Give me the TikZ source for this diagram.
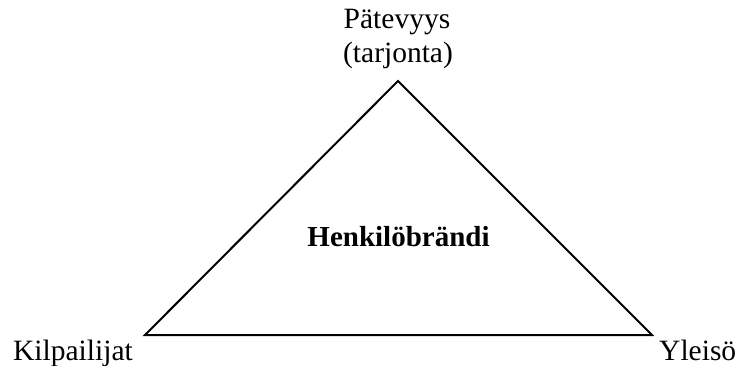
\documentclass[tikz,border=0pt]{standalone}
\usepackage{fontspec}
\setmainfont{Liberation Serif}
\begin{document}
\begin{tikzpicture}[x=1pt,y=-1pt,
  lbl/.style={inner sep=0pt,anchor=base,font=\fontsize{29.5}{32}\selectfont},
  side/.style={line width=2pt,line join=miter}]
\useasboundingbox (0,0) rectangle (739,366);
% corners of the triangle
\coordinate (top) at (398,81);
\coordinate (left) at (145,335);
\coordinate (right) at (652,335);
\draw[side] (top) -- (left) -- (right) -- cycle;
% labels
\node[lbl] (p1) at (397,29) {Pätevyys};
\node[lbl] (p2) at (398,63) {(tarjonta)};
\node[lbl,font=\fontsize{29}{32}\selectfont\bfseries] (brand) at (398.5,247) {Henkilöbrändi};
\node[lbl,anchor=base west] (comp) at (13,360) {Kilpailijat};
\node[lbl,anchor=base west] (aud) at (659,360) {Yleisö};
\end{tikzpicture}
\end{document}
